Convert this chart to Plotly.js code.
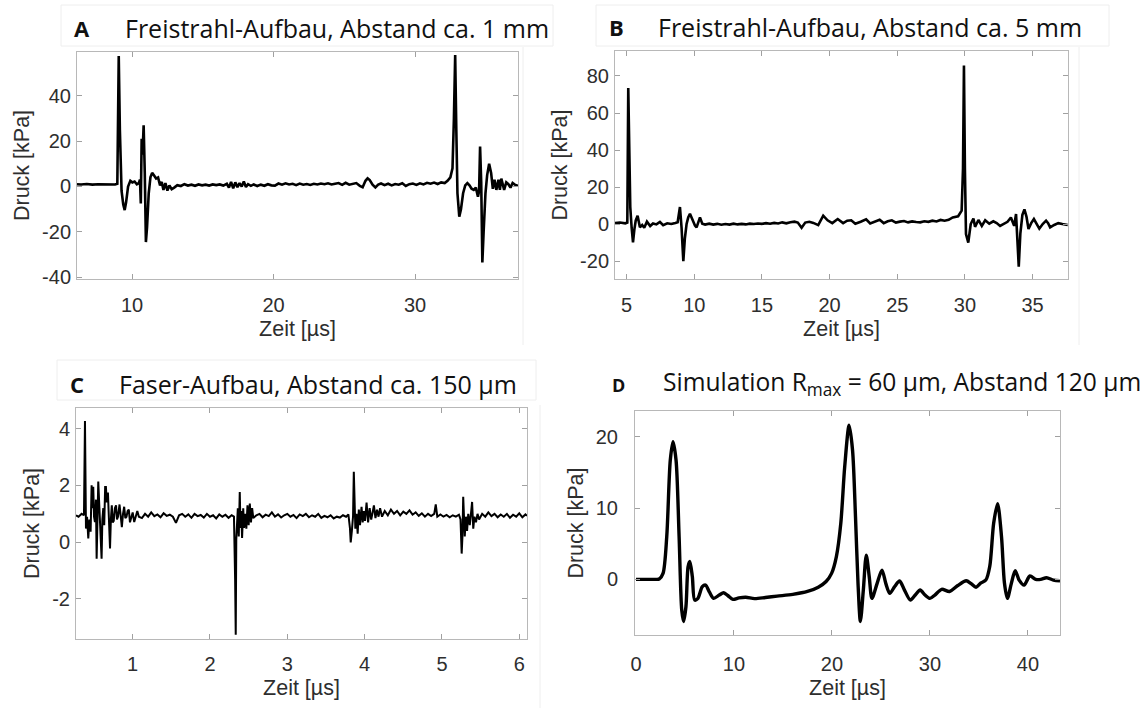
<!DOCTYPE html>
<html>
<head>
<meta charset="utf-8">
<script src="https://cdn.plot.ly/plotly-3.0.1.min.js"></script>
<style>
html,body{margin:0;padding:0;background:#fff;}
#chart{width:1147px;height:708px;}
</style>
</head>
<body>
<div id="chart"></div>
<script>
// ---------- Panel A: Freistrahl-Aufbau, Abstand ca. 1 mm ----------
const timeA = [6.11,6.4,6.8,7.2,7.6,8.0,8.4,8.8,8.96,9.06,9.14,9.26,9.38,9.48,9.58,9.72,9.88,10.02,10.18,10.34,10.48,10.56,10.62,10.68,10.74,10.82,10.9,10.98,11.06,11.18,11.3,11.42,11.56,11.7,11.84,11.98,12.1,12.22,12.36,12.5,12.64,12.8,12.98,13.2,13.45,13.7,13.95,14.2,14.45,14.7,14.95,15.2,15.45,15.7,15.95,16.2,16.45,16.7,16.85,17.0,17.15,17.3,17.45,17.6,17.75,17.9,18.05,18.2,18.4,18.6,18.85,19.1,19.35,19.6,19.85,20.1,20.35,20.6,20.85,21.1,21.35,21.6,21.85,22.1,22.35,22.6,22.85,23.1,23.35,23.6,23.85,24.1,24.35,24.6,24.85,25.1,25.35,25.6,25.85,26.1,26.3,26.5,26.65,26.8,27.0,27.2,27.4,27.6,27.85,28.1,28.35,28.6,28.85,29.1,29.35,29.6,29.85,30.1,30.35,30.6,30.85,31.1,31.35,31.6,31.85,32.1,32.3,32.5,32.65,32.75,32.84,32.92,33.0,33.13,33.25,33.4,33.55,33.7,33.85,34.0,34.15,34.3,34.45,34.53,34.6,34.68,34.76,34.85,34.98,35.1,35.24,35.38,35.5,35.62,35.75,35.9,36.0,36.1,36.2,36.3,36.45,36.6,36.75,36.9,37.05,37.28];
const pressureA = [1.0,0.9,1.1,0.8,1.0,0.9,1.1,0.9,1.2,57.5,25,-2,-8,-10.4,-7,0,2.5,1.8,2.2,1,1.5,3,-7.5,21,14,27,6,-24.5,-18,-3,4,6,4.8,3.5,4,0.5,2,-1.5,1.5,-1.8,0.5,-1.2,-0.5,0.6,0.2,1.0,0.4,0.8,0.3,0.9,0.5,0.8,0.4,0.9,0.6,0.9,0.4,1.2,-0.5,2.0,-0.8,1.8,-0.3,1.5,0.0,2.2,-0.2,1.0,0.3,0.9,0.2,0.8,0.3,1.0,0.5,0.4,1.3,0.8,1.4,0.9,1.2,0.6,1.3,0.8,1.1,0.7,1.2,0.9,1.3,1.0,1.4,0.9,1.2,1.5,0.7,1.6,0.8,1.2,1.5,0.3,-0.3,2.5,3.6,2.8,0.8,-0.4,0.8,1.3,0.6,1.2,0.5,1.1,0.8,1.4,0.2,1.0,1.3,0.7,1.4,0.9,1.6,1.2,1.7,1.1,1.8,1.5,2.5,4.0,8,30,58,25,-3,-13.3,-10,-3,0.5,1.5,0.5,-1,-1.5,-0.5,-4.5,-2,17.6,2,-33.5,-20,-3,5,10,6,-1,3,-1.5,3,-1.5,3.5,0.5,-1.5,1.8,1.0,-0.5,1.5,0.8,0.3];

// ---------- Panel B: Freistrahl-Aufbau, Abstand ca. 5 mm ----------
const timeB = [4.14,4.5,4.9,5.05,5.12,5.2,5.27,5.37,5.47,5.57,5.67,5.81,5.98,6.15,6.3,6.5,6.74,6.95,7.2,7.46,7.7,8.0,8.3,8.6,8.77,8.94,9.06,9.19,9.3,9.43,9.55,9.68,9.8,9.93,10.05,10.17,10.3,10.42,10.59,10.8,11.1,11.4,11.7,12.0,12.3,12.6,12.9,13.2,13.5,13.8,14.1,14.4,14.7,15.0,15.3,15.6,15.9,16.2,16.5,16.8,17.1,17.4,17.65,17.93,18.2,18.5,18.8,19.16,19.53,19.85,20.2,20.6,21.0,21.3,21.6,21.9,22.3,22.7,23.0,23.3,23.7,24.0,24.3,24.6,24.9,25.2,25.5,25.8,26.1,26.4,26.7,27.0,27.3,27.6,27.9,28.2,28.5,28.8,29.1,29.5,29.76,29.86,29.93,30.0,30.08,30.25,30.43,30.63,30.75,31.0,31.25,31.5,31.8,32.1,32.35,32.6,32.9,33.15,33.4,33.64,33.78,33.9,33.98,34.1,34.25,34.4,34.55,34.7,34.9,35.1,35.3,35.5,35.75,36.0,36.15,36.3,36.6,36.9,37.2,37.6];
const pressureB = [0.5,0.8,0.4,0.8,73.5,20,9,-2,-9.9,-3,1.8,4.5,-1.8,-0.5,-2,1.3,-1.1,0.3,-0.2,1.1,-0.6,0.4,0.0,0.6,1.0,9.2,-2,-20.1,-8,0,3.5,5.5,3.5,1.1,-0.8,-1.8,0.5,3.6,0.2,-0.3,0.2,-0.3,0.1,-0.4,0.0,-0.3,0.2,-0.2,0.1,-0.2,0.2,0.0,0.3,0.1,0.5,0.2,0.6,0.3,0.9,0.4,1.0,1.3,0.8,-2.0,0.8,1.2,0.6,-0.6,4.5,2.0,0.5,2.7,0.5,1.8,2.0,0.2,1.2,2.5,0.3,1.0,2.3,0.5,1.5,2.0,0.8,1.3,1.6,0.9,1.4,1.1,0.9,1.5,1.2,1.8,1.4,2.2,1.8,2.3,3.6,4.2,7.2,30,85.6,30,-5.4,-10,0,3,-1.5,2.2,-1,2.0,0.2,1.5,0.5,-1,0.3,1.2,3.5,-1,5.4,-8,-23,-5,5,7.9,4,-2.7,0.5,2.7,0,-2.5,0,1.8,0.5,-1.8,-0.5,0.5,0,-0.5];

// ---------- Panel C: Faser-Aufbau, Abstand ca. 150 µm ----------
const timeC = [0.267,0.3,0.34,0.37,0.383,0.39,0.396,0.41,0.426,0.44,0.456,0.469,0.478,0.49,0.5,0.512,0.525,0.534,0.545,0.555,0.565,0.575,0.587,0.598,0.608,0.62,0.632,0.644,0.654,0.665,0.68,0.69,0.7,0.707,0.718,0.73,0.742,0.755,0.77,0.785,0.797,0.81,0.83,0.845,0.86,0.875,0.89,0.905,0.92,0.935,0.95,0.965,0.98,1.0,1.02,1.04,1.06,1.08,
1.12,1.16,1.2,1.24,1.28,1.32,1.36,1.4,1.44,1.48,1.52,1.56,1.6,1.64,1.68,1.72,1.76,1.8,1.84,1.88,1.92,1.96,2.0,2.04,2.08,2.12,2.16,2.2,2.24,2.28,
2.31,2.325,2.333,2.34,2.35,2.36,2.372,2.385,2.395,2.405,2.415,2.43,2.44,2.455,2.47,2.485,2.5,2.515,2.53,2.545,2.56,
2.6,2.64,2.68,2.72,2.76,2.8,2.84,2.88,2.92,2.96,3.0,3.04,3.08,3.12,3.16,3.2,3.24,3.28,3.32,3.36,3.4,3.44,3.48,3.52,3.56,3.6,3.64,3.68,3.72,3.76,3.79,
3.81,3.82,3.835,3.85,3.86,3.868,3.88,3.895,3.91,3.925,3.94,3.96,3.975,3.99,4.005,4.025,4.045,4.065,4.085,4.1,4.12,4.14,4.16,4.18,4.2,4.225,
4.26,4.3,4.34,4.38,4.42,4.46,4.5,4.54,4.58,4.62,4.66,4.7,4.74,4.78,4.82,4.86,4.9,4.92,4.94,4.98,5.02,5.06,5.1,5.14,5.18,5.22,
5.24,5.255,5.265,5.275,5.285,5.295,5.31,5.325,5.34,5.36,5.375,5.39,5.405,5.42,5.44,5.46,5.48,
5.52,5.56,5.6,5.64,5.68,5.72,5.76,5.8,5.84,5.88,5.92,5.96,6.0,6.04,6.08,6.1];
const pressureC = [0.95,0.9,1.0,0.95,4.27,1.5,0.48,0.9,0.13,0.8,0.37,2.01,1.2,1.95,0.9,0.71,1.5,-0.58,1.0,2.14,1.5,0.95,0.4,-0.58,0.8,1.2,0.6,1.95,1.95,1.4,1.75,0.95,0.5,-0.22,0.8,1.3,0.7,0.75,1.2,1.3,0.8,0.9,1.33,0.8,0.53,1.0,1.25,0.85,0.9,1.1,1.15,0.7,0.9,1.05,0.71,0.95,1.1,0.9,
0.85,1.0,0.9,1.05,0.92,0.98,0.88,1.02,0.93,0.97,0.9,0.68,0.95,1.0,0.9,0.98,0.86,1.0,0.92,0.96,0.87,1.0,0.9,0.95,0.84,0.98,0.9,0.97,0.86,0.95,
0.9,-1.3,-3.26,0.1,0.7,1.2,0.2,1.77,0.5,1.1,0.15,1.2,0.5,1.0,0.48,1.3,0.6,1.36,0.7,1.2,0.85,
0.95,1.0,0.88,0.97,0.92,1.05,0.9,0.98,0.87,0.95,1.0,0.9,0.96,0.85,0.98,0.92,1.0,0.88,0.95,0.9,1.0,0.86,0.93,0.88,0.95,0.84,0.9,0.87,0.95,0.9,0.98,
0.5,-0.01,0.4,0.9,2.48,1.0,0.48,1.0,0.3,1.15,0.6,1.25,0.7,1.1,0.75,1.4,0.7,1.2,0.8,1.0,1.3,0.85,1.15,0.9,1.2,0.9,
1.1,0.95,1.15,1.0,1.1,0.95,1.08,1.0,1.12,0.97,1.05,0.93,1.02,0.9,1.0,0.92,1.0,1.33,0.9,0.98,0.9,0.96,0.88,0.95,0.9,0.97,
0.8,-0.4,0.2,1.6,0.6,0.2,0.9,0.4,1.0,0.6,1.0,1.42,0.48,0.9,0.7,1.0,0.8,
1.0,0.9,1.05,0.92,1.0,0.88,0.98,0.9,1.0,0.86,0.97,0.9,1.02,0.88,0.98,0.93];

// ---------- Panel D: Simulation ----------
const timeD = [0,1.0,2.0,2.37,2.76,3.14,3.5,3.78,4.09,4.4,4.67,4.86,5.1,5.32,5.5,5.75,5.99,6.3,6.77,7.1,7.5,7.92,8.5,8.95,9.4,9.9,10.5,11.2,12.1,13.2,14.4,16.0,17.5,18.6,19.4,19.96,20.45,20.9,21.3,21.75,22.1,22.4,22.66,22.9,23.2,23.5,23.8,24.08,24.6,25.1,25.5,25.9,26.4,26.9,27.4,28.0,28.5,29.0,29.5,30.0,30.5,31.2,31.99,32.8,33.7,34.2,34.7,35.2,35.7,36.1,36.5,36.9,37.3,37.6,37.9,38.3,38.7,39.1,39.6,40.2,40.8,41.3,41.9,42.6,43.27];
const pressureD = [0,0,0,0.05,0.84,6.0,16.7,19.3,16.7,6.0,-4.3,-5.9,-3.8,1.8,2.5,0.4,-2.9,-2.7,-1.03,-0.8,-1.8,-2.66,-2.2,-1.87,-2.3,-2.8,-2.6,-2.5,-2.7,-2.55,-2.35,-2.1,-1.7,-1.1,-0.3,0.84,3.2,7.85,15.8,21.6,18.1,8.8,-0.6,-5.9,-1.5,3.4,0.4,-2.66,-0.6,1.3,-0.6,-1.96,-1.0,-0.23,-1.5,-2.9,-2.2,-1.5,-2.2,-2.66,-2.2,-1.4,-1.7,-0.9,-0.2,-0.6,-1.1,-0.5,-0.1,1.8,7.85,10.6,6.0,-0.5,-2.66,-0.6,1.2,-0.1,-0.8,0.47,0.0,0.0,0.23,-0.1,-0.2];

// ---------- tick labels ----------
const ticksA_x = [10,20,30], ticksA_y = [-40,-20,0,20,40];
const ticksB_x = [5,10,15,20,25,30,35], ticksB_y = [-20,0,20,40,60,80];
const ticksC_x = [1,2,3,4,5,6], ticksC_y = [-2,0,2,4];
const ticksD_x = [0,10,20,30,40], ticksD_y = [0,10,20];

// ---------- layout helpers (pixel boxes) ----------
const W = 1147, H = 708;
const px = v => v / W;
const py = v => 1 - v / H;

const tickFont = {family:'Liberation Sans, Arial, sans-serif', size:20, color:'#2e2e2e'};
const titleFont = {family:'Liberation Sans, Arial, sans-serif', size:21.5, color:'#2e2e2e'};

function xAxis(box, range, ticks, anchor, standoff, titleStandoff){
  return {domain:[px(box[0]),px(box[1])], anchor:anchor, range:range, tickvals:ticks, ticktext:ticks.map(String),
    showgrid:false, zeroline:false, showline:true, linecolor:'#b8b8b8', linewidth:1, mirror:'allticks',
    ticks:'inside', ticklen:5, tickcolor:'#a0a0a0', tickfont:tickFont, ticklabelstandoff:standoff,
    title:{text:'Zeit [µs]', font:titleFont, standoff:titleStandoff}, fixedrange:true};
}
function yAxis(box, range, ticks, anchor, standoff, titleStandoff){
  return {domain:[py(box[3]),py(box[2])], anchor:anchor, range:range, tickvals:ticks, ticktext:ticks.map(String),
    showgrid:false, zeroline:false, showline:true, linecolor:'#b8b8b8', linewidth:1, mirror:'allticks',
    ticks:'inside', ticklen:5, tickcolor:'#a0a0a0', tickfont:tickFont, ticklabelstandoff:standoff,
    title:{text:'Druck [kPa]', font:titleFont, standoff:titleStandoff}, fixedrange:true};
}

// boxes: [left, right, top, bottom] in px
const boxA = [77,518,52,279], boxB = [615,1068,51,279], boxC = [76,527,408,639], boxD = [635,1060,411,635];

const line = (x,y,xa,ya,w) => ({x:x, y:y, xaxis:xa, yaxis:ya, type:'scatter', mode:'lines',
  line:{color:'#000', width:w}, hoverinfo:'skip', showlegend:false});

const traces = [
  line(timeA, pressureA, 'x', 'y', 2.6),
  line(timeB, pressureB, 'x2', 'y2', 2.6),
  line(timeC, pressureC, 'x3', 'y3', 2.0),
  Object.assign(line(timeD, pressureD, 'x4', 'y4', 3.4), {line:{color:'#000', width:3.4, shape:'spline', smoothing:0.8}})
];

const tFont = {family:'Open Sans, sans-serif', size:25, color:'#111'};
const dFont = {family:'Open Sans, sans-serif', size:24.6, color:'#111'};
const lFont = {family:'Open Sans, sans-serif', size:22, color:'#111'};
function ann(x, y, text, font){ return {xref:'paper', yref:'paper', x:px(x), y:py(y), xanchor:'left', yanchor:'middle', text:text, showarrow:false, font:font}; }

const faint = '#eeeeee';
function rect(x0,y0,x1,y1){ return {type:'rect', xref:'paper', yref:'paper', x0:px(x0), x1:px(x1), y0:py(y1), y1:py(y0), line:{color:faint, width:1}, fillcolor:'rgba(0,0,0,0)', layer:'below'}; }
function vline(x,y0,y1){ return {type:'line', xref:'paper', yref:'paper', x0:px(x), x1:px(x), y0:py(y1), y1:py(y0), line:{color:faint, width:1}, layer:'below'}; }

const layout = {
  width:W, height:H, margin:{l:0,r:0,t:0,b:0}, paper_bgcolor:'#fff', plot_bgcolor:'#fff', showlegend:false,
  xaxis: xAxis(boxA, [6.11,37.28], ticksA_x, 'y', 8, 5),
  yaxis: yAxis(boxA, [-40.8,59.3], ticksA_y, 'x', 1, 6),
  xaxis2: xAxis(boxB, [4.14,37.62], ticksB_x, 'y2', 8, 5),
  yaxis2: yAxis(boxB, [-29.7,93.5], ticksB_y, 'x2', 1, 6),
  xaxis3: xAxis(boxC, [0.267,6.10], ticksC_x, 'y3', 7, 5),
  yaxis3: yAxis(boxC, [-3.41,4.73], ticksC_y, 'x3', 1, 6),
  xaxis4: xAxis(boxD, [-0.1,43.27], ticksD_x, 'y4', 11, 5),
  yaxis4: yAxis(boxD, [-7.8,23.6], ticksD_y, 'x4', 12, 6),
  annotations:[
    ann(72, 28, '<b>A</b>', lFont), ann(123, 28, 'Freistrahl-Aufbau, Abstand ca. 1 mm', tFont),
    ann(607, 27, '<b>B</b>', lFont), ann(656, 27, 'Freistrahl-Aufbau, Abstand ca. 5 mm', tFont),
    ann(68, 384, '<b>C</b>', lFont), ann(117, 384, 'Faser-Aufbau, Abstand ca. 150 µm', tFont),
    ann(610, 385, '<b>D</b>', {family:'Open Sans, sans-serif', size:18, color:'#111'}),
    ann(661, 383, 'Simulation R<sub>max</sub> = 60 µm, Abstand 120 µm', dFont)
  ],
  shapes:[
    rect(61,5,553,46), rect(596,5,1109,46), rect(57,360,536,400),
    vline(523,47,345), vline(1079,47,345), vline(540,405,708)
  ]
};

Plotly.newPlot('chart', traces, layout, {staticPlot:true, displayModeBar:false});
</script>
</body>
</html>
